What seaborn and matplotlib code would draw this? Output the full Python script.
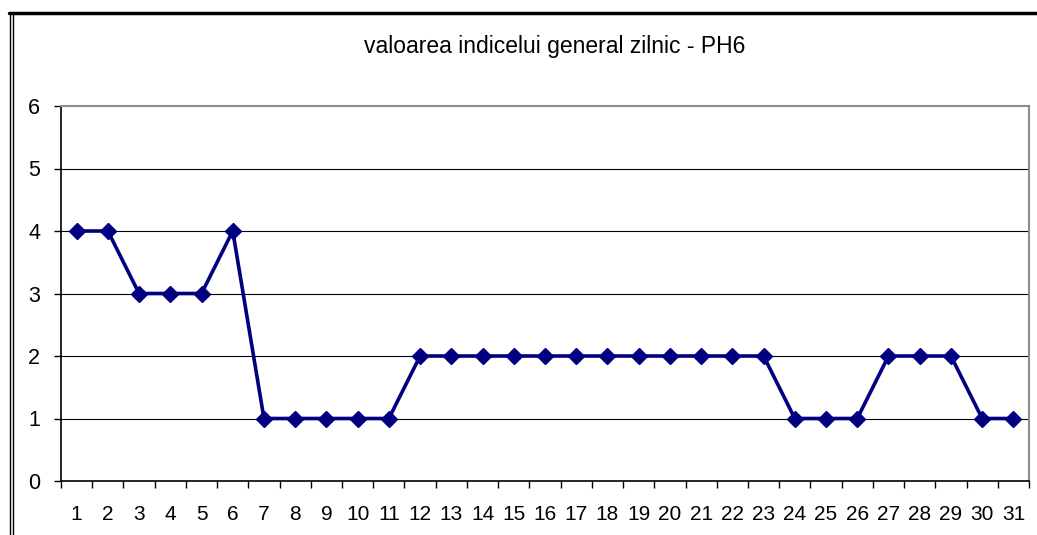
import matplotlib
matplotlib.use("Agg")
import matplotlib.pyplot as plt
import seaborn as sns
from matplotlib.lines import Line2D

days = list(range(1, 32))
values = [4, 4, 3, 3, 3, 4, 1, 1, 1, 1, 1, 2, 2, 2, 2, 2, 2, 2, 2, 2, 2, 2, 2,
          1, 1, 1, 2, 2, 2, 1, 1]
title = "valoarea indicelui general zilnic - PH6"
y_ticks = [0, 1, 2, 3, 4, 5, 6]

sns.set_theme(style="white")
plt.rcParams['font.family'] = ['Liberation Sans', 'DejaVu Sans']
plt.rcParams['text.color'] = 'black'
plt.rcParams['xtick.color'] = 'black'
plt.rcParams['ytick.color'] = 'black'

fig = plt.figure(figsize=(10.37, 5.35), dpi=100)
ax = fig.add_axes([61/1037, 1 - 481/535, (1029 - 61)/1037, (481 - 106)/535])

sns.lineplot(x=days, y=values, ax=ax, color="#000080", linewidth=2.6,
             marker="D", markersize=8.5, markeredgecolor="#000080",
             markerfacecolor="#000080", markeredgewidth=1, zorder=5)

ax.set_xlim(0.5, 31.5)
ax.set_ylim(0, 6)
ax.set_yticks(y_ticks)
ax.set_yticklabels([str(v) for v in y_ticks], fontsize=15.5, color='black')
ax.set_xticks(days)
ax.set_xticklabels([str(d) for d in days], fontsize=15, color='black')
ax.set_xticks([d + 0.5 for d in [0] + days], minor=True)
ax.tick_params(axis='x', which='major', length=0, pad=17)
ax.tick_params(axis='x', which='minor', length=5, width=1, color='black', direction='out', bottom=True)
ax.tick_params(axis='y', which='major', length=5, width=1, color='black', direction='out', left=True, pad=10)

for y in y_ticks[1:-1]:
    ax.axhline(y, color="black", linewidth=0.8, zorder=1)

for s in ['left', 'bottom']:
    ax.spines[s].set_color('black')
    ax.spines[s].set_linewidth(1.2)
for s in ['top', 'right']:
    ax.spines[s].set_color('#8c8c8c')
    ax.spines[s].set_linewidth(1.5)

ax.set_xlabel("")
ax.set_ylabel("")
fig.text(555/1037, 1 - 47/535, title, ha='center', va='center', fontsize=16.5, color='black')

# outer chart frame
fig.add_artist(Line2D([9/1037, 1], [1 - 13/535, 1 - 13/535], transform=fig.transFigure,
                      color='black', linewidth=2.5))
fig.add_artist(Line2D([9.5/1037, 9.5/1037], [0, 1 - 13/535], transform=fig.transFigure,
                      color='black', linewidth=1))
fig.add_artist(Line2D([12.5/1037, 12.5/1037], [0, 1 - 13/535], transform=fig.transFigure,
                      color='black', linewidth=1))

fig.savefig("out.png", dpi=100)
